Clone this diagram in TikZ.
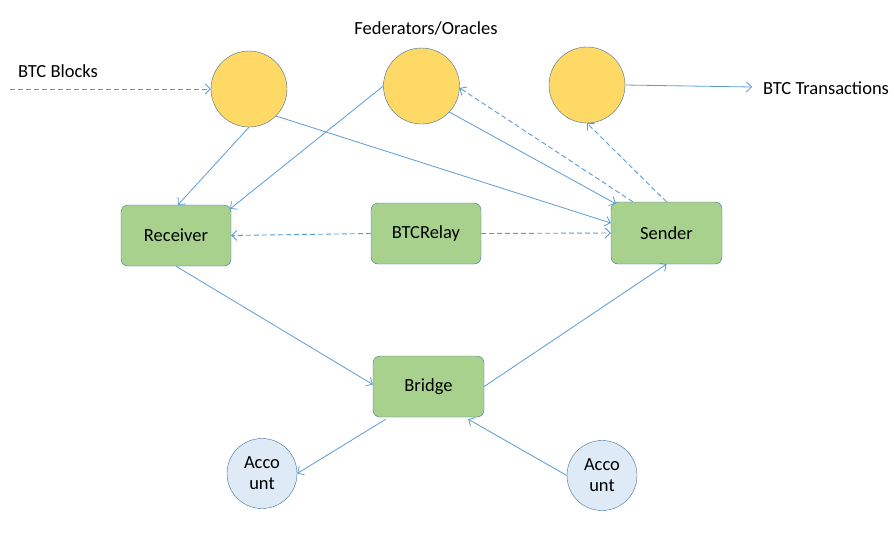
\documentclass[tikz,border=0pt]{standalone}
\usepackage{fontspec}
\setmainfont{Carlito}
\usepackage{tikz}
\usetikzlibrary{positioning}
\usetikzlibrary{arrows.meta}
\definecolor{fedfill}{HTML}{FFD966}
\definecolor{boxfill}{HTML}{A9D18E}
\definecolor{acctfill}{HTML}{DEEBF7}
\definecolor{edgeline}{HTML}{41719C}
\definecolor{arrowline}{HTML}{5B9BD5}
\tikzset{
  fed/.style={circle, draw=edgeline, fill=fedfill, minimum size=76pt, inner sep=0},
  box/.style={rectangle, rounded corners=7pt, draw=edgeline, fill=boxfill, minimum width=110pt, minimum height=61pt},
  acct/.style={circle, draw=edgeline, fill=acctfill, minimum size=70pt, inner sep=0, align=center},
  link/.style={draw=arrowline, line width=0.8pt, -{Straight Barb[length=5pt,width=10pt]}},
  dlink/.style={link, line width=0.9pt, dash pattern=on 5pt off 3pt}
}

\begin{document}
\begin{tikzpicture}[x=1pt,y=-1pt,font=\fontsize{18.5}{21}\selectfont]
            \useasboundingbox (0,0) rectangle (894,542);
            \node[fed] (c1) at (249,89) {};
            \node[fed] (c2) at (421.5,86) {};
            \node[fed] (c3) at (587,85) {};
            \node (fedlbl) at (426,28) {Federators/Oracles};
            \node[anchor=west, inner sep=0] (blocks) at (18,71) {BTC Blocks};
            \node[anchor=west, inner sep=0] (txs) at (763,88) {BTC Transactions};
            \coordinate (blkin) at (10,89);
            \coordinate (txout) at (752,87);
            \node[box] (rec) at (176,235.5) {Receiver};
            \node[box] (relay) at (426,233.5) {BTCRelay};
            \node[box, minimum width=111pt, minimum height=62pt] (snd) at (666.5,233) {Sender};
            \node[box, minimum width=111pt] (brg) at (428.5,386.5) {Bridge};
            \node[acct] (a1) at (262,473.5) {Acco\\unt};
            \node[acct] (a2) at (602,475.5) {Acco\\unt};
            \draw[dlink] (blkin) -- (c1.west);
            \draw[link] (c3.east) -- (txout);
            \draw[link] (c1.south) -- ([xshift=2pt]rec.north);
            \draw[link] (c2.west) -- ([xshift=-1pt,yshift=-4pt]rec.north east);
            \draw[link] (c1.-45) -- ([yshift=10pt]snd.west);
            \draw[link] (c2.-43) -- ([xshift=5pt,yshift=-2pt]snd.north west);
            \draw[dlink] ([xshift=22pt]snd.north west) -- (c2.-3);
            \draw[dlink] (snd.north) -- (c3.south);
            \draw[dlink] (relay.west) -- (rec.east);
            \draw[dlink] (relay.east) -- (snd.west);
            \draw[link] (rec.south) -- ([yshift=2pt]brg.west);
            \draw[link] (brg.east) -- (snd.south);
            \draw[link] ([xshift=13pt,yshift=-2pt]brg.south west) -- (a1.east);
            \draw[link] (a2.west) -- ([xshift=-16pt,yshift=-2pt]brg.south east);
        \end{tikzpicture}
\end{document}
